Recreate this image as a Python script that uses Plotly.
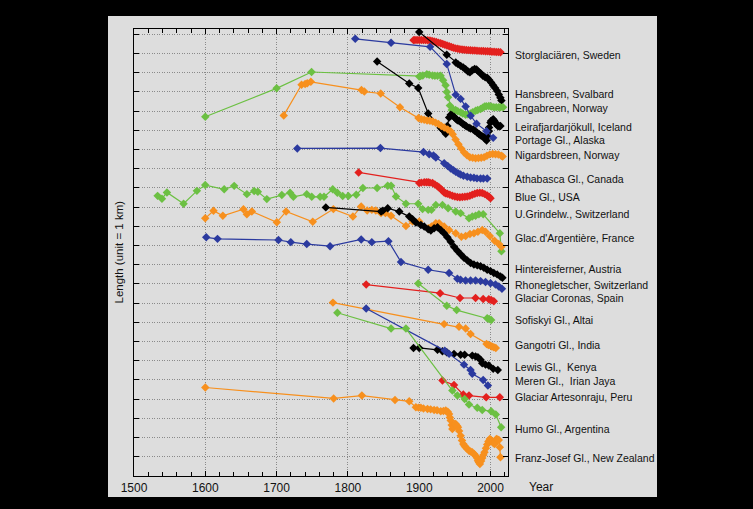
import plotly.graph_objects as go

# ---------------- data (year, relative glacier length in km; each glacier offset) ----------------
storglaciaren_year = [1892, 1894, 1897, 1900, 1903, 1906, 1909, 1912, 1915, 1918, 1921, 1924, 1927, 1930, 1933, 1936,
                      1939, 1942, 1945, 1948, 1951, 1954, 1957, 1960, 1963, 1966, 1969, 1972, 1975, 1978, 1981, 1984,
                      1987, 1990, 1993, 1996, 1999, 2002, 2005, 2008, 2011, 2014]
storglaciaren_len = [22.70, 22.71, 22.71, 22.71, 22.71, 22.70, 22.70, 22.69, 22.68, 22.66, 22.63, 22.60, 22.57, 22.54,
                     22.50, 22.46, 22.42, 22.38, 22.34, 22.30, 22.27, 22.25, 22.23, 22.21, 22.20, 22.19, 22.18, 22.17,
                     22.16, 22.16, 22.15, 22.14, 22.13, 22.13, 22.12, 22.12, 22.11, 22.10, 22.09, 22.08, 22.08, 22.07]

hansbreen_year = [1900, 1938.6, 1951.2, 1954.4, 1958.1, 1961.8, 1965.1, 1968.4, 1971.1, 1974.4, 1977.7, 1980.4, 1983.2,
                  1986, 1989.3, 1992.5, 1995.3, 1998.1, 2000.9, 2003.7, 2006.5, 2009.3, 2011.6, 2013.9, 2015.3]
hansbreen_len = [23.12, 21.94, 21.53, 21.45, 21.36, 21.27, 21.18, 21.07, 21.02, 21.13, 21.20, 21.17, 21.06,
                 20.97, 20.84, 20.77, 20.74, 20.63, 20.49, 20.35, 20.21, 20.05, 19.87, 19.70, 19.55]

engabreen_year = [1600, 1700, 1749, 1900, 1902, 1905, 1910.7, 1914, 1918.6, 1922, 1925.6, 1930, 1933.5, 1937, 1938.6,
                  1940.5, 1943, 1945.6, 1948, 1951, 1954, 1958, 1961, 1965, 1968, 1972, 1975, 1979, 1982, 1986, 1989,
                  1991.6, 1994, 1997.6, 2001, 2004.6, 2008, 2011.6, 2014, 2017.6]
engabreen_len = [18.71, 20.19, 21.04, 20.80, 20.83, 20.86, 20.92, 20.90, 20.86, 20.85, 20.84, 20.84, 20.61, 20.35, 20.00,
                 19.73, 19.29, 19.06, 19.07, 19.06, 19.00, 18.94, 18.88, 18.81, 18.84, 18.88, 18.95, 19.02, 19.06, 19.11,
                 19.18, 19.24, 19.26, 19.27, 19.24, 19.20, 19.20, 19.20, 19.20, 19.20]

leirafjardarjokull_year = [1841, 1886, 1898.6, 1912.6, 1930, 1932.6, 1935, 1937.2, 1939.5, 1941.9, 1944.2, 1946, 1948.8,
                           1951, 1953.5, 1956, 1958.1, 1961, 1963.7, 1966, 1969.8, 1972, 1975.8, 1978, 1981.4, 1984,
                           1986, 1988, 1990.7, 1992, 1994.4, 1996, 1997.6, 1998, 1999.9, 2001, 2003.7, 2005, 2006.9,
                           2008, 2010.2, 2012, 2013.9]
leirafjardarjokull_len = [21.59, 20.44, 20.21, 18.88, 18.14, 18.05, 17.95, 17.82, 18.23, 18.67, 18.81, 18.78, 18.71,
                          18.62, 18.53, 18.50, 18.44, 18.35, 18.28, 18.22, 18.14, 18.10, 18.05, 17.98, 17.88, 17.80,
                          17.75, 17.70, 17.65, 17.58, 17.47, 17.70, 17.96, 18.15, 18.41, 18.50, 18.58, 18.52, 18.41,
                          18.32, 18.23, 18.22, 18.23]

portage_year = [1810.3, 1860.5, 1915.3, 1938.6, 1951.2, 1958.1, 1965.1, 1972.1, 1980.4, 1994.4, 2003.7]
portage_len = [22.77, 22.56, 22.35, 21.46, 19.86, 19.64, 19.24, 18.76, 18.35, 17.96, 17.61]

nigardsbreen_year = [1710, 1735, 1740, 1743, 1748, 1819, 1823, 1846, 1873, 1899, 1903, 1907, 1911, 1915, 1919, 1923,
                     1927, 1931, 1935, 1940, 1944, 1947, 1951, 1955, 1959, 1963, 1967, 1971, 1975, 1979, 1983, 1987,
                     1991, 1995, 1999, 2003, 2007, 2011, 2015, 2017]
nigardsbreen_len = [18.78, 20.38, 20.42, 20.45, 20.53, 20.10, 20.02, 19.92, 19.20, 18.64, 18.58, 18.55, 18.52, 18.50,
                    18.46, 18.40, 18.33, 18.23, 18.15, 18.05, 17.96, 17.80, 17.52, 17.28, 17.05, 16.85, 16.70, 16.60,
                    16.57, 16.55, 16.56, 16.57, 16.60, 16.68, 16.75, 16.77, 16.76, 16.74, 16.68, 16.64]

athabasca_year = [1729, 1845.6, 1906, 1914, 1920, 1923.3, 1935, 1940, 1944.2, 1948, 1951.2, 1955, 1958, 1962, 1967.4,
                  1972, 1976.7, 1981, 1986, 1990, 1995.3]
athabasca_len = [17.06, 17.08, 16.87, 16.76, 16.69, 16.59, 16.29, 16.15, 16.02, 15.92, 15.84, 15.76, 15.70, 15.64, 15.58,
                 15.55, 15.53, 15.50, 15.49, 15.49, 15.49]

blue_gl_year = [1815, 1900, 1903, 1907, 1910, 1912.6, 1915, 1918.6, 1922, 1925.6, 1928, 1930.2, 1932, 1934.9, 1937,
                1939.5, 1943, 1946.5, 1950, 1953.5, 1957, 1960.5, 1964, 1967.4, 1971, 1974.4, 1978, 1981.4, 1985,
                1988.4, 1992, 1995.3, 1998, 2000]
blue_gl_len = [15.81, 15.26, 15.28, 15.30, 15.30, 15.30, 15.28, 15.26, 15.18, 15.09, 15.02, 14.95, 14.88, 14.77, 14.73,
               14.70, 14.65, 14.60, 14.56, 14.53, 14.52, 14.53, 14.54, 14.56, 14.60, 14.65, 14.70, 14.74, 14.75,
               14.74, 14.68, 14.61, 14.54, 14.47]

grindelwald_year = [1533.1, 1539.2, 1546.2, 1569.5, 1588.2, 1599.9, 1626.5, 1640.5, 1658.3, 1668.5, 1673.7, 1686.3,
                    1707.3, 1718.9, 1723.5, 1742.3, 1749.3, 1761, 1766.5, 1778.7, 1785.2, 1792.7, 1800.6, 1811.7,
                    1821, 1841, 1855.8, 1860.5, 1867.4, 1881.4, 1898.6, 1904.7, 1912.6, 1917.2, 1923.3, 1932.6,
                    1940.5, 1951.2, 1958.1, 1969.8, 1974.4, 1979, 1983.7, 1989.7, 2013, 2015.3]
grindelwald_len = [14.59, 14.44, 14.77, 14.18, 14.85, 15.15, 14.93, 15.11, 14.68, 14.84, 14.80, 14.42,
                   14.63, 14.75, 14.54, 14.68, 14.54, 14.54, 14.54, 14.93, 14.75, 14.58, 14.58, 14.65,
                   15.00, 15.00, 15.12, 15.12, 14.56, 14.18, 14.18, 13.90, 13.86, 13.86, 14.12, 14.12,
                   13.95, 13.77, 13.69, 13.42, 13.51, 13.55, 13.63, 13.63, 12.64, 11.71]

argentiere_year = [1599.9, 1611.5, 1624.6, 1653.5, 1658.3, 1665.3, 1700.3, 1713.3, 1750.7, 1779.6, 1807, 1818.6, 1827,
                   1833.5, 1839.1, 1846.5, 1852.6, 1860.5, 1881.4, 1890.7, 1900, 1912.6, 1917.2, 1923.3, 1927.9,
                   1934.9, 1941.9, 1951.2, 1959.1, 1965.1, 1971.1, 1976.7, 1982.3, 1988.4, 1993, 1999, 2005.6,
                   2011.6, 2015.3]
argentiere_len = [13.42, 13.81, 13.55, 13.89, 13.63, 13.78, 13.21, 13.78, 13.24, 13.90, 13.51, 14.04, 13.83,
                  13.86, 13.83, 13.69, 13.69, 13.55, 13.02, 13.25, 13.25, 12.90, 12.99, 13.16, 13.16,
                  12.99, 12.81, 12.64, 12.46, 12.50, 12.60, 12.64, 12.72, 12.81, 12.72, 12.50, 12.25,
                  12.08, 11.94]

hintereisferner_year = [1769, 1846.5, 1849, 1855.8, 1872, 1886, 1890.7, 1895.3, 1902.3, 1907, 1912.6, 1916.3, 1920.9,
                        1925.6, 1930.2, 1934.9, 1939.5, 1944.2, 1948.8, 1953.5, 1958.1, 1962.8, 1967.4, 1972.1,
                        1976.7, 1981.4, 1986, 1990.7, 1995.3, 2000, 2004.6, 2009.3, 2013.9, 2016.7]
hintereisferner_len = [13.99, 13.77, 13.82, 13.95, 13.77, 13.51, 13.37, 13.20, 13.07, 12.99, 12.85, 12.78, 12.90,
                       12.95, 12.81, 12.64, 12.43, 12.20, 11.94, 11.73, 11.55, 11.37, 11.23, 11.09,
                       11.02, 10.97, 10.92, 10.85, 10.74, 10.67, 10.57, 10.50, 10.39, 10.32]

rhone_year = [1601.3, 1617.1, 1702.6, 1719.9, 1742.3, 1775, 1818.6, 1833.5, 1856.8, 1874.4, 1912.6, 1941.9, 1953.5,
              1958, 1965, 1972, 1979, 1986, 1993, 2000, 2007, 2011.6, 2016]
rhone_len = [12.43, 12.35, 12.29, 12.18, 12.08, 11.97, 12.32, 12.18, 12.23, 11.15, 10.74, 10.57, 10.27,
             10.22, 10.18, 10.18, 10.18, 10.15, 10.10, 10.04, 9.97, 9.87, 9.75]

coronas_year = [1825.6, 1929.3, 1957.2, 1979, 1989.7, 1997.6, 2000.9, 2004.6]
coronas_len = [9.97, 9.52, 9.27, 9.27, 9.22, 9.20, 9.17, 9.10]

sofiskyi_year = [1898.6, 1938.6, 1952.5, 1995.3, 1998, 2000.9]
sofiskyi_len = [10.03, 8.87, 8.64, 8.22, 8.18, 8.12]

gangotri_year = [1779, 1934.9, 1955.8, 1965.1, 1972, 1994.4, 1997, 2000, 2002, 2004.6, 2007.4]
gangotri_len = [9.03, 7.91, 7.77, 7.68, 7.40, 6.88, 6.82, 6.79, 6.74, 6.70, 6.67]

lewis_year = [1892, 1900, 1925.6, 1932.6, 1938.6, 1948.8, 1958.1, 1963.7, 1974.4, 1979, 1982.3, 1986, 1988.4, 1993,
              1997.6, 2003.7, 2010.2]
lewis_len = [6.67, 6.67, 6.57, 6.50, 6.44, 6.36, 6.32, 6.32, 6.27, 6.22, 6.18, 6.05, 5.87, 5.80,
             5.75, 5.58, 5.52]

meren_year = [1825.6, 1935.8, 1941.9, 1962.8, 1972, 1974.4, 1989.7, 1996.3]
meren_len = [8.72, 6.53, 6.36, 5.80, 5.52, 5.32, 5.00, 4.71]

artesonraju_year = [1932.6, 1948.8, 1961.8, 1969.8, 1993.9, 2013]
artesonraju_len = [4.97, 4.74, 4.24, 4.19, 4.10, 4.10]

humo_year = [1785.2, 1860.5, 1881.4, 1946.5, 1953.5, 1963.7, 1969.8, 1981.4, 1988.4, 2000.9, 2007.4, 2014.9]
humo_len = [8.50, 7.68, 7.68, 4.45, 4.19, 4.01, 3.72, 3.55, 3.44, 3.37, 3.20, 2.54]

franz_josef_year = [1600, 1780, 1819.6, 1866, 1886, 1895.3, 1899, 1902.3, 1906, 1911.6, 1916, 1920.9, 1925, 1930.2,
                    1934, 1937.2, 1940, 1941.9, 1943, 1944.2, 1945.5, 1946.5, 1948, 1950, 1951.2, 1953, 1954.4,
                    1956, 1958.1, 1960, 1961.8, 1963.5, 1965.1, 1967.5, 1969.8, 1972, 1974.4, 1977, 1979, 1980.8,
                    1982.3, 1983.8, 1985.1, 1986.8, 1988.4, 1990, 1991.6, 1993.5, 1995.3, 1997, 1999, 2000.6,
                    2002.3, 2004, 2005.6, 2007, 2008.3, 2010, 2011.6, 2013, 2013.9]
franz_josef_len = [4.61, 4.04, 4.19, 3.96, 3.89, 3.58, 3.56, 3.55, 3.52, 3.49, 3.47, 3.44, 3.42, 3.37,
                   3.38, 3.41, 3.35, 3.23, 3.05, 2.89, 2.65, 2.45, 2.55, 2.70, 2.71, 2.62, 2.54,
                   2.35, 2.10, 1.85, 1.67, 1.58, 1.50, 1.40, 1.32, 1.28, 1.24, 1.15, 1.06, 0.95,
                   0.80, 0.70, 0.63, 0.78, 0.94, 1.10, 1.24, 1.45, 1.64, 1.80, 1.93, 1.88,
                   1.81, 1.72, 1.67, 1.80, 1.93, 1.90, 1.88, 1.50, 0.98]

glacier_names = ["Storglaciären, Sweden", "Hansbreen, Svalbard", "Engabreen, Norway", "Leirafjardarjökull, Iceland",
                 "Portage Gl., Alaska", "Nigardsbreen, Norway", "Athabasca Gl., Canada", "Blue Gl., USA",
                 "U.Grindelw., Switzerland", "Glac.d'Argentière, France", "Hintereisferner, Austria",
                 "Rhonegletscher, Switzerland", "Glaciar Coronas, Spain", "Sofiskyi Gl., Altai", "Gangotri Gl., India",
                 "Lewis Gl.,  Kenya", "Meren Gl.,  Irian Jaya", "Glaciar Artesonraju, Peru", "Humo Gl., Argentina",
                 "Franz-Josef Gl., New Zealand"]

x_tick_vals = [1500, 1600, 1700, 1800, 1900, 2000]
x_tick_text = ["1500", "1600", "1700", "1800", "1900", "2000"]

# ---------------- styling ----------------
RED, BLUE, GREEN, ORANGE, BLACK = "#e3201e", "#2b3a9f", "#6cc043", "#f7901e", "#000000"

series = [
    (storglaciaren_year, storglaciaren_len, RED),
    (hansbreen_year, hansbreen_len, BLACK),
    (engabreen_year, engabreen_len, GREEN),
    (leirafjardarjokull_year, leirafjardarjokull_len, BLACK),
    (portage_year, portage_len, BLUE),
    (nigardsbreen_year, nigardsbreen_len, ORANGE),
    (athabasca_year, athabasca_len, BLUE),
    (blue_gl_year, blue_gl_len, RED),
    (grindelwald_year, grindelwald_len, GREEN),
    (argentiere_year, argentiere_len, ORANGE),
    (hintereisferner_year, hintereisferner_len, BLACK),
    (rhone_year, rhone_len, BLUE),
    (coronas_year, coronas_len, RED),
    (sofiskyi_year, sofiskyi_len, GREEN),
    (gangotri_year, gangotri_len, ORANGE),
    (lewis_year, lewis_len, BLACK),
    (meren_year, meren_len, BLUE),
    (artesonraju_year, artesonraju_len, RED),
    (humo_year, humo_len, GREEN),
    (franz_josef_year, franz_josef_len, ORANGE),
]

# vertical placement of the right-hand glacier labels (axis units)
label_pos = [21.92, 19.89, 19.16, 18.17, 17.49, 16.71, 15.46, 14.52, 13.64, 12.39, 10.78, 9.95, 9.27, 8.12,
             6.82, 5.67, 4.95, 4.12, 2.45, 0.94]

fig = go.Figure()
for (xs, ys, col), name in zip(series, glacier_names):
    fig.add_trace(go.Scatter(
        x=xs, y=ys, mode="lines+markers", name=name,
        line=dict(color=col, width=1.2),
        marker=dict(symbol="diamond", size=6.5, color=col),
        showlegend=False, cliponaxis=False,
    ))

W, H = 753, 509
L, R, T, B = 134, 245, 29, 33
pw, ph = W - L - R, H - T - B

def px_to_paper_x(px):
    return (px - L) / pw

def py_to_paper_y(py):
    return (H - B - py) / ph

annotations = []
for name, yv in zip(glacier_names, label_pos):
    annotations.append(dict(
        x=px_to_paper_x(513), xref="paper", y=yv, yref="y", text=name, showarrow=False,
        xanchor="left", yanchor="middle",
        font=dict(family="Liberation Sans, Arial, sans-serif", size=10.5, color="#111111"),
    ))
annotations.append(dict(
    x=px_to_paper_x(118), xref="paper", y=0.5, yref="paper", text="Length (unit = 1 km)",
    textangle=-90, showarrow=False, xanchor="center", yanchor="middle",
    font=dict(family="Liberation Sans, Arial, sans-serif", size=11.5, color="#111111"),
))
annotations.append(dict(
    x=px_to_paper_x(541), xref="paper", y=py_to_paper_y(487), yref="paper", text="Year",
    showarrow=False, xanchor="center", yanchor="middle",
    font=dict(family="Liberation Sans, Arial, sans-serif", size=12, color="#111111"),
))

GRID = dict(showgrid=True, gridcolor="#8a8a8a", griddash="1px,1.5px", gridwidth=1)

fig.update_layout(
    width=W, height=H,
    margin=dict(l=L, r=R, t=T, b=B, pad=0),
    paper_bgcolor="#000000",
    plot_bgcolor="#ffffff",
    annotations=annotations,
    shapes=[dict(
        type="rect", xref="paper", yref="paper", layer="below",
        x0=px_to_paper_x(108), x1=px_to_paper_x(657), y0=py_to_paper_y(497), y1=py_to_paper_y(16),
        fillcolor="#dddddd", line=dict(width=0),
    )],
    xaxis=dict(
        range=[1500, 2024.5], tickvals=x_tick_vals, ticktext=x_tick_text,
        ticks="inside", ticklen=5, tickcolor="#000", tickwidth=1,
        showline=True, linecolor="#000", linewidth=1.2, mirror="ticks",
        zeroline=False,
        tickfont=dict(family="Liberation Sans, Arial, sans-serif", size=12, color="#111111"),
        minor=dict(dtick=20, tick0=1500, ticks="inside", ticklen=4, tickcolor="#000", showgrid=False),
        **GRID,
    ),
    yaxis=dict(
        range=[0, 23.28], tick0=0, dtick=1, showticklabels=False,
        ticks="inside", ticklen=5, tickcolor="#000", tickwidth=1,
        showline=True, linecolor="#000", linewidth=1.2, mirror="ticks",
        zeroline=False,
        **GRID,
    ),
)

fig.write_html("out.html", config={"displayModeBar": False},
               post_script="document.body.style.margin='0';document.body.style.background='#000';")
